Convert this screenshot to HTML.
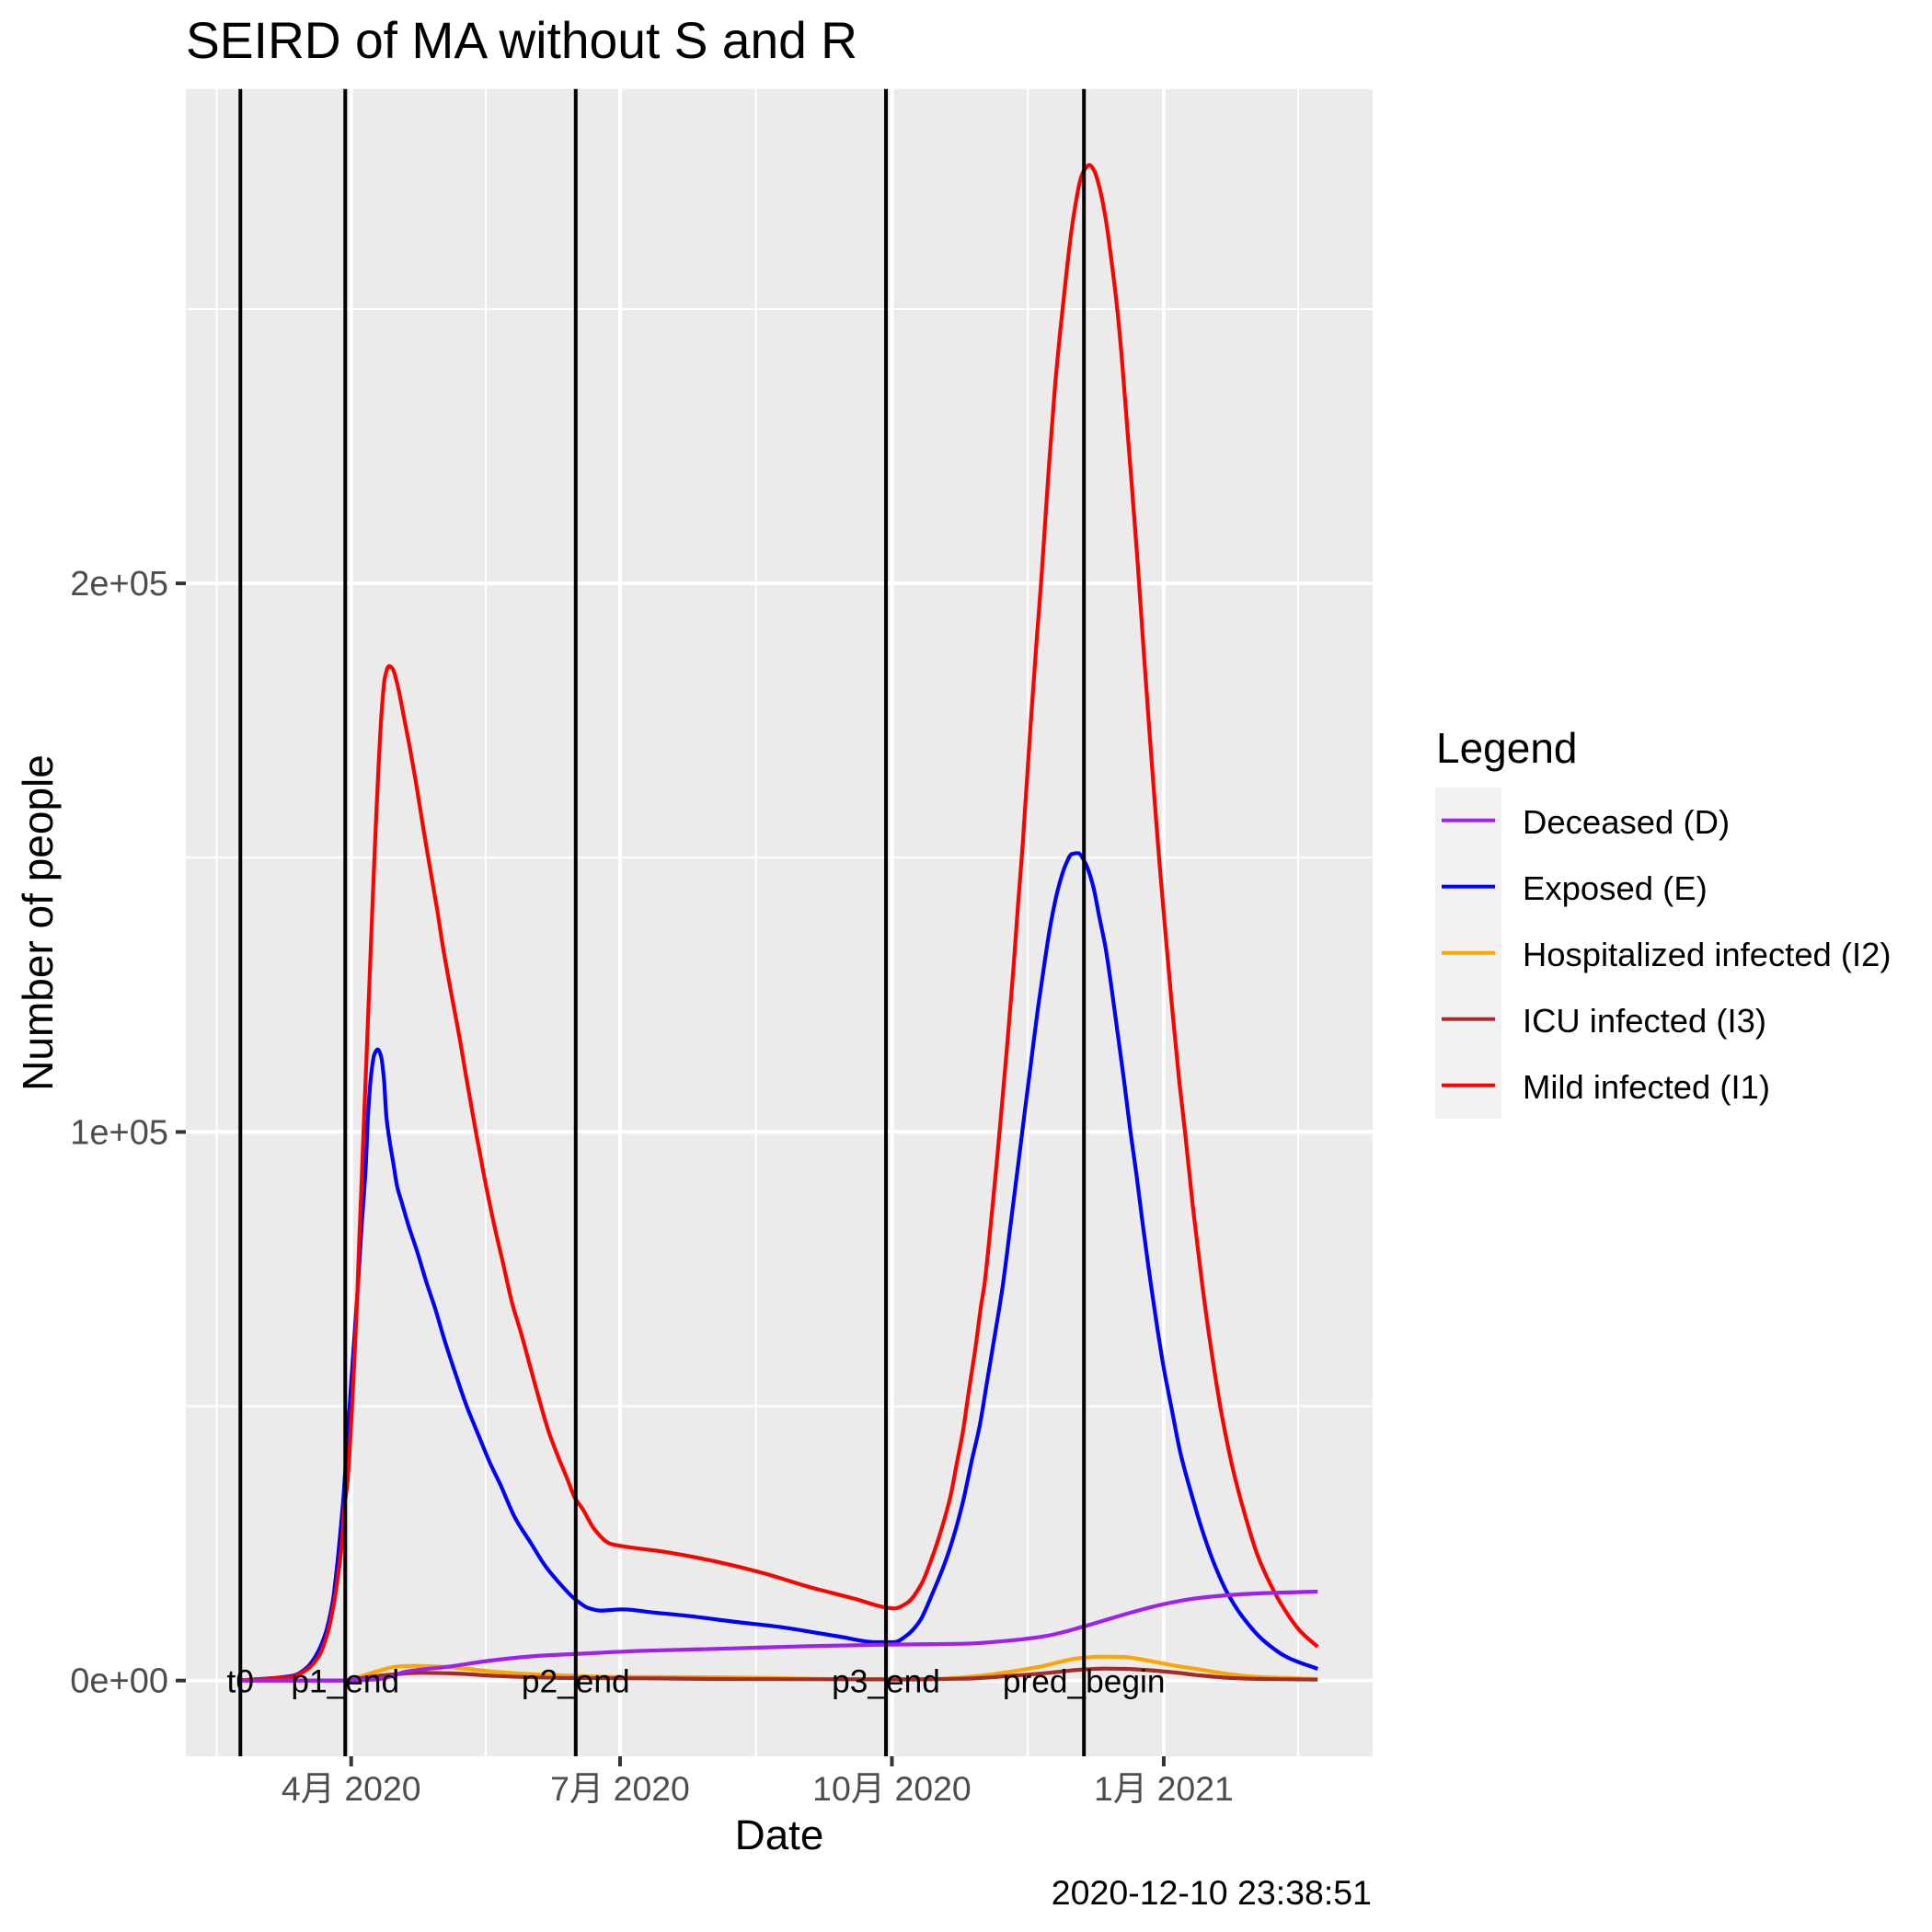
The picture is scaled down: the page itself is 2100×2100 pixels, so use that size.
<!DOCTYPE html>
<html lang="en">
<head>
<meta charset="utf-8">
<title>SEIRD of MA without S and R</title>
<style>
  html, body { margin: 0; padding: 0; background: #FFFFFF; }
  svg { display: block; }
  text { font-family: "Liberation Sans", "Noto Sans CJK SC", sans-serif; }
</style>
</head>
<body>
<svg id="chart" xmlns="http://www.w3.org/2000/svg" width="2100" height="2100" viewBox="0 0 2100 2100">
  <rect x="0" y="0" width="2100" height="2100" fill="#FFFFFF"/>
  <text x="202" y="63" font-size="55.2" fill="#000000">SEIRD of MA without S and R</text>
  <rect x="202" y="96.7" width="1290" height="1812.3" fill="#EBEBEB"/>
  <g id="grid"></g>
  <g id="series"></g>
  <g id="vlines"></g>
  <g id="axes"></g>
  <text x="847" y="2010" font-size="45.8" text-anchor="middle" fill="#000000">Date</text>
  <text transform="translate(57 1003) rotate(-90)" font-size="46" text-anchor="middle" fill="#000000">Number of people</text>
  <text x="1491" y="2070" font-size="37.5" text-anchor="end" fill="#000000">2020-12-10 23:38:51</text>

  <g>
    <text x="1561" y="829" font-size="46" fill="#000000">Legend</text>
    <rect x="1560" y="856" width="72" height="360" fill="#F2F2F2"/>
    <rect x="1567" y="889.7" width="58" height="4" fill="#A020F0"/>
    <text x="1655" y="906" font-size="36.5" fill="#000000">Deceased (D)</text>
    <rect x="1567" y="961.7" width="58" height="4" fill="#0000FF"/>
    <text x="1655" y="978" font-size="36.5" fill="#000000">Exposed (E)</text>
    <rect x="1567" y="1033.7" width="58" height="4" fill="#FFA500"/>
    <text x="1655" y="1050" font-size="36.4" fill="#000000">Hospitalized infected (I2)</text>
    <rect x="1567" y="1105.7" width="58" height="4" fill="#A52A2A"/>
    <text x="1655" y="1122" font-size="36.4" fill="#000000">ICU infected (I3)</text>
    <rect x="1567" y="1177.7" width="58" height="4" fill="#FF0000"/>
    <text x="1655" y="1194" font-size="36.4" fill="#000000">Mild infected (I1)</text>
  </g>
  <g id="labels"></g>
</svg>

<script>
// All day values are days since 2020-04-01.
const mildDays = [-37.7,-25.4,-20.2,-15.1,-10.9,-7.8,-5.7,-4.2,-3.1,-2.1,-1.2,-0.5,0.5,1.3,2.1,2.8,3.4,4.1,4.9,6.2,7.3,8.3,9.3,10.4,11.4,12.8,14.0,15.6,17.6,19.7,21.8,24.4,26.5,29.0,31.1,33.7,36.8,38.9,42.0,45.1,48.3,51.4,54.5,57.6,60.7,63.8,66.9,70.0,73.2,75.7,78.3,82.5,87.7,93.9,104.3,114.7,124.0,139.6,155.1,170.7,180.0,183.7,188.4,193.0,196.6,199.7,202.8,205.0,207.0,209.0,211.2,213.3,214.3,216.4,218.4,220.0,222.1,224.2,225.7,227.3,229.9,231.9,233.5,235.1,236.1,238.2,240.2,242.3,244.4,247.0,248.5,249.8,251.4,253.2,255.3,257.3,259.4,261.0,262.6,264.1,266.2,268.2,270.3,272.4,273.6,275.5,277.6,280.2,282.3,284.9,287.9,290.6,294.2,298.4,302.5,306.7,310.8,316.0,321.2,327.1];
const mildValues = [50,450,670,1960,4480,9010,14540,20120,25160,32480,36340,41930,51990,60990,70430,81120,88880,98940,109630,127450,142500,155410,167000,177210,182790,184920,184470,181690,176370,170500,164130,155410,148700,140870,133610,125780,116840,110130,100620,91680,83300,76090,68760,63170,57020,50930,45280,40870,36680,33320,31310,27450,24940,24320,23600,22640,21630,19570,17050,14870,13420,13150,14250,17610,22420,27450,33540,39690,45280,52610,60370,68760,72110,82790,93910,103420,116330,130250,141490,152610,173850,188950,200180,212980,221000,235900,247140,257700,266640,273970,275650,276270,275310,272290,266640,258880,249320,239810,228690,218500,203540,187820,172000,157000,148800,136800,124000,109500,99560,86150,72730,62050,49760,38570,30190,22920,17890,12860,9010,6150];

const exposedDays = [-37.7,-25.4,-19.2,-15.1,-12.0,-8.8,-6.2,-4.7,-3.4,-2.6,-1.1,0.5,2.1,3.6,4.9,5.7,6.7,7.8,9.0,10.1,11.1,11.9,13.0,14.2,15.6,17.1,19.2,22.3,25.4,28.5,31.6,35.3,38.9,43.1,47.2,50.4,55.5,60.7,65.9,71.1,75.7,80.4,84.5,91.8,102.2,114.7,129.6,144.8,165.4,177.9,183.7,188.4,192.5,196.6,200.8,203.9,207.0,210.1,212.7,215.3,217.9,220.5,223.1,225.7,228.3,230.4,232.4,234.5,236.6,239.2,241.8,243.9,246.0,248.5,251.1,253.2,255.3,257.3,259.4,261.5,263.6,265.7,267.7,269.8,271.3,272.9,275.0,277.6,280.7,284.3,288.0,292.1,296.3,301.5,308.7,317.0,327.1];
const exposedValues = [30,500,950,2300,4480,8390,14540,21250,28510,33490,45400,58140,70430,83300,93360,102920,110130,114040,115040,113820,109630,102920,98390,94530,90000,87200,83300,78260,72730,67700,62050,55960,50310,44720,39410,35840,29630,25160,20740,17390,14870,13200,12750,12980,12410,11740,10730,9790,8000,6990,6990,8390,10900,15710,21250,26280,32480,40250,46400,54790,63170,71890,82790,93910,105100,114000,122420,130250,137510,144220,148700,150660,150830,148990,144840,139190,133610,126400,118010,109630,100620,92500,84000,75500,69800,64000,57000,49760,41370,34160,27450,21250,16220,11740,7330,4190,2130];

const hospitalDays = [-37.7,-2.1,2.6,8.8,15.0,20.2,29.6,38.9,49.3,62.7,76.3,88.7,129.6,165.4,196.6,212.3,222.6,233.0,245.5,253.7,261.0,271.4,279.1,285.9,296.3,306.7,327.1];
const hospitalValues = [0,0,670,1680,2520,2680,2580,2130,1580,1120,840,670,570,285,285,840,1580,2520,4020,4360,4310,3470,2680,2130,1240,670,285];

const icuDays = [-37.7,-2.1,4.7,11.9,23.3,32.7,49.3,62.7,76.3,99.1,124.0,186.3,207.0,222.6,236.1,246.4,254.7,262.0,279.0,285.9,298.4,308.6,327.1];
const icuValues = [0,0,570,1010,1410,1340,840,570,450,400,285,200,335,840,1410,1960,2180,2130,1460,1010,450,285,170];

const deceasedDays = [-37.7,-2.1,4.1,9.7,19.1,32.7,47.1,62.7,76.3,99.1,129.6,155.1,181.0,207.0,222.6,235.1,247.5,258.0,268.2,275.5,285.9,296.3,306.7,327.1];
const deceasedValues = [0,20,100,285,1680,2520,3640,4480,4860,5430,5870,6270,6540,6710,7280,8120,9790,11470,13030,13990,14990,15550,15880,16220];

const phaseDays = [-37.5,-2,76,181,248];
const phaseLabels = ['t0','p1_end','p2_end','p3_end','pred_begin'];

const xTickDays = [0,91,183,275];
const xTickLabels = ['4月 2020','7月 2020','10月 2020','1月 2021'];
const xMinorDays = [-45.5,45.5,137,229,320.5];
const yTickValues = [0,100000,200000];
const yTickLabels = ['0e+00','1e+05','2e+05'];
const yMinorValues = [50000,150000,250000];

const dayDomain = [-55.95,345.7];
const valueDomain = [-13800,290120];

const panel = { left: 202, right: 1492, top: 96.7, bottom: 1909 };
const NS = 'http://www.w3.org/2000/svg';

function scaleX(d) {
  return panel.left + (d - dayDomain[0]) / (dayDomain[1] - dayDomain[0]) * (panel.right - panel.left);
}
function scaleY(v) {
  return panel.bottom - (v - valueDomain[0]) / (valueDomain[1] - valueDomain[0]) * (panel.bottom - panel.top);
}
function makeLine(x1, y1, x2, y2, color, width) {
  const el = document.createElementNS(NS, 'line');
  el.setAttribute('x1', x1);
  el.setAttribute('y1', y1);
  el.setAttribute('x2', x2);
  el.setAttribute('y2', y2);
  el.setAttribute('stroke', color);
  el.setAttribute('stroke-width', width);
  return el;
}
// Monotone cubic path through the scaled data points.
function curvePath(days, values) {
  const px = days.map(scaleX);
  const py = values.map(scaleY);
  const n = px.length;
  const sec = [];
  for (let i = 0; i < n - 1; i++) {
    sec.push((py[i + 1] - py[i]) / (px[i + 1] - px[i]));
  }
  const tan = [sec[0]];
  for (let i = 1; i < n - 1; i++) {
    const a = sec[i - 1];
    const b = sec[i];
    tan.push(a * b <= 0 ? 0 : 2 * a * b / (a + b));
  }
  tan.push(sec[n - 2]);
  let d = 'M' + px[0].toFixed(2) + ' ' + py[0].toFixed(2);
  for (let i = 0; i < n - 1; i++) {
    const h = (px[i + 1] - px[i]) / 3;
    d += 'C' + (px[i] + h).toFixed(2) + ' ' + (py[i] + tan[i] * h).toFixed(2) + ' ' +
         (px[i + 1] - h).toFixed(2) + ' ' + (py[i + 1] - tan[i + 1] * h).toFixed(2) + ' ' +
         px[i + 1].toFixed(2) + ' ' + py[i + 1].toFixed(2);
  }
  return d;
}

const grid = document.getElementById('grid');
yMinorValues.forEach(function (v) {
  const el = makeLine(panel.left, scaleY(v), panel.right, scaleY(v), '#FFFFFF', 2);
  
  
  grid.appendChild(el);
});
xMinorDays.forEach(function (d) {
  const el = makeLine(scaleX(d), panel.top, scaleX(d), panel.bottom, '#FFFFFF', 2);
  
  
  grid.appendChild(el);
});
yTickValues.forEach(function (v) {
  const el = makeLine(panel.left, scaleY(v), panel.right, scaleY(v), '#FFFFFF', 4);
  
  
  grid.appendChild(el);
});
xTickDays.forEach(function (d) {
  const el = makeLine(scaleX(d), panel.top, scaleX(d), panel.bottom, '#FFFFFF', 4);
  
  
  grid.appendChild(el);
});

const seriesGroup = document.getElementById('series');
function drawSeries(days, values, color, name) {
  const el = document.createElementNS(NS, 'path');
  el.setAttribute('d', curvePath(days, values));
  el.setAttribute('fill', 'none');
  el.setAttribute('stroke', color);
  el.setAttribute('stroke-width', 4.2);
  el.setAttribute('stroke-linejoin', 'round');
  
  
  seriesGroup.appendChild(el);
}
drawSeries(exposedDays, exposedValues, '#0000FF', 'series-exposed');
drawSeries(mildDays, mildValues, '#FF0000', 'series-mild-infected');
drawSeries(hospitalDays, hospitalValues, '#FFA500', 'series-hospitalized-infected');
drawSeries(icuDays, icuValues, '#A52A2A', 'series-icu-infected');
drawSeries(deceasedDays, deceasedValues, '#A020F0', 'series-deceased');

const vlines = document.getElementById('vlines');
const labels = document.getElementById('labels');
phaseDays.forEach(function (d, i) {
  const el = makeLine(scaleX(d), panel.top, scaleX(d), panel.bottom, '#000000', 4);
  
  
  vlines.appendChild(el);
  const t = document.createElementNS(NS, 'text');
  t.setAttribute('x', scaleX(d));
  t.setAttribute('y', scaleY(0) + 13);
  t.setAttribute('font-size', 35.3);
  t.setAttribute('text-anchor', 'middle');
  t.setAttribute('fill', '#000000');
  
  
  t.textContent = phaseLabels[i];
  labels.appendChild(t);
});

const axes = document.getElementById('axes');
xTickDays.forEach(function (d, i) {
  const tick = makeLine(scaleX(d), panel.bottom, scaleX(d), panel.bottom + 11, '#333333', 4);
  
  
  axes.appendChild(tick);
  const t = document.createElementNS(NS, 'text');
  t.setAttribute('x', scaleX(d));
  t.setAttribute('y', 1957);
  t.setAttribute('font-size', 37.4);
  t.setAttribute('text-anchor', 'middle');
  t.setAttribute('fill', '#4D4D4D');
  
  
  t.textContent = xTickLabels[i];
  axes.appendChild(t);
});
yTickValues.forEach(function (v, i) {
  const tick = makeLine(panel.left - 11, scaleY(v), panel.left, scaleY(v), '#333333', 4);
  
  
  axes.appendChild(tick);
  const t = document.createElementNS(NS, 'text');
  t.setAttribute('x', 183);
  t.setAttribute('y', scaleY(v) + 13);
  t.setAttribute('font-size', 38);
  t.setAttribute('text-anchor', 'end');
  t.setAttribute('fill', '#4D4D4D');
  
  
  t.textContent = yTickLabels[i];
  axes.appendChild(t);
});
</script>
</body>
</html>
